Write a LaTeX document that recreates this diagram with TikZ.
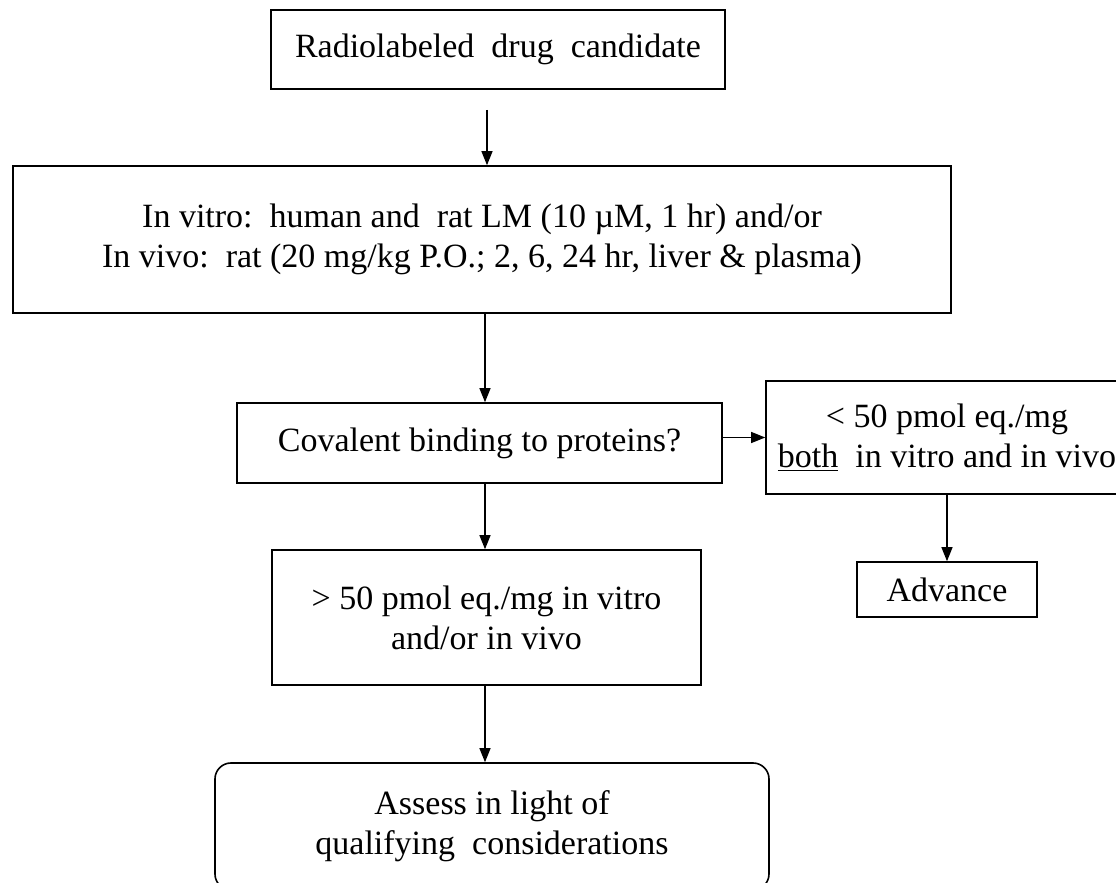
\documentclass[tikz,border=0pt]{standalone}
\usepackage{fontspec}
\setmainfont{Liberation Serif}
\usetikzlibrary{arrows.meta}

\tikzset{
  stage/.style={draw, line width=0.8pt, align=center, inner sep=0pt,
    font=\fontsize{17}{20}\selectfont},
  arr/.style={-{Triangle[length=7pt,width=5.5pt]}, line width=0.6pt},
}

\begin{document}
\begin{tikzpicture}[x=0.5pt,y=-0.5pt]
        \useasboundingbox (0,0) rectangle (1116,883);
        \clip (0,0) rectangle (1116,883);
        % main column
        \node[stage, minimum width=227pt, minimum height=39.5pt] (drug) at (498,49.5)
          {Radiolabeled~~drug~~candidate};
        \node[stage, minimum width=469pt, minimum height=73.5pt] (assay) at (482,239.5)
          {In vitro:~~human and~~rat LM (10 µM, 1 hr) and/or\\
           In vivo:~~rat (20 mg/kg P.O.; 2, 6, 24 hr, liver \& plasma)};
        \node[stage, minimum width=242.5pt, minimum height=40pt] (binding) at (479.5,443)
          {Covalent binding to proteins?};
        \node[stage, minimum width=214.5pt, minimum height=67.5pt] (high) at (486.5,617.5)
          {> 50 pmol eq./mg in vitro\\ and/or in vivo};
        \node[stage, rounded corners=8pt, minimum width=277pt, minimum height=63.5pt] (assess) at (492,826.5)
          {Assess in light of\\ qualifying~~considerations};
        % right branch
        \node[stage, minimum width=181pt, minimum height=56.5pt] (low) at (947,437.5)
          {< 50 pmol eq./mg\\ \underline{both}~~in vitro and in vivo};
        \node[stage, minimum width=90pt, minimum height=27.5pt] (advance) at (947,589.5)
          {Advance};

        \coordinate (top) at (487,110);
        \coordinate (col) at (485,0);
        \draw[arr] (top) -- (top |- assay.north);
        \draw[arr] (assay.south -| col) -- (binding.north -| col);
        \draw[arr] (binding.south -| col) -- (high.north -| col);
        \draw[arr] (high.south -| col) -- (assess.north -| col);
        \draw[arr] (binding.east |- low.west) -- (low.west);
        \draw[arr] (low) -- (advance);
      \end{tikzpicture}
\end{document}
